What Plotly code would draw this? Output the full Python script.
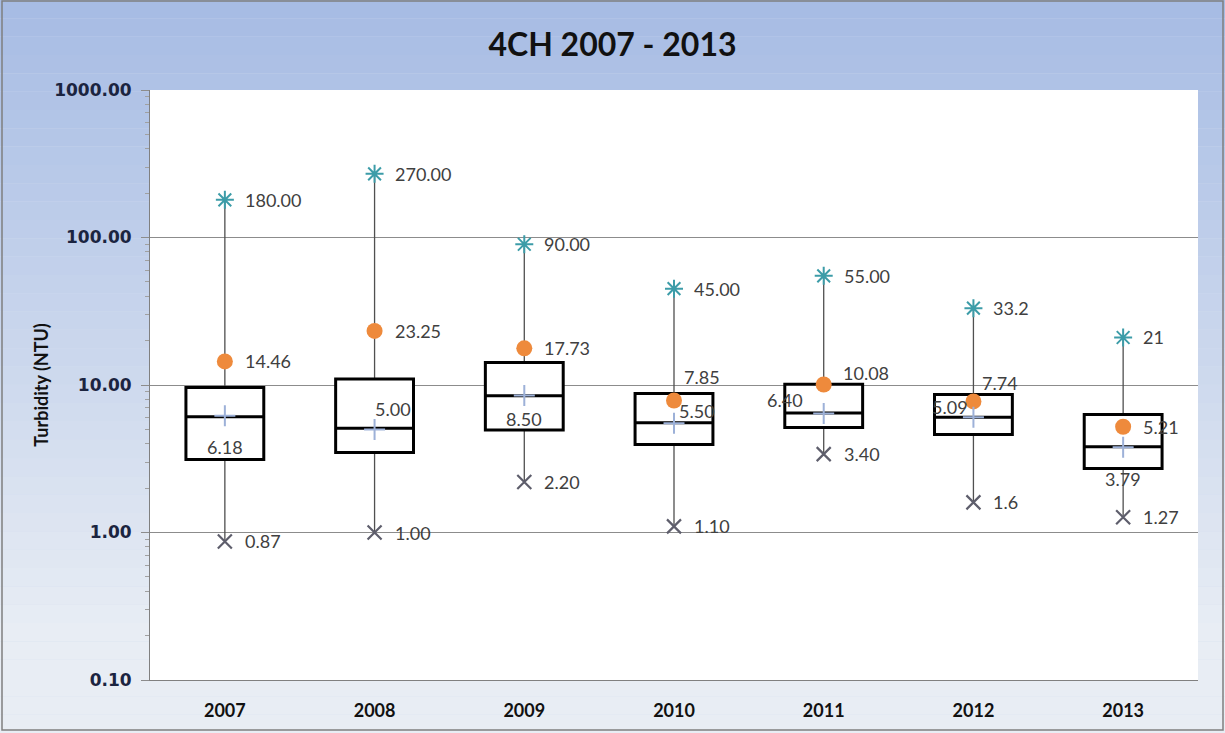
import math
import plotly.graph_objects as go

# ---- data ----
years = ["2007", "2008", "2009", "2010", "2011", "2012", "2013"]
q1 = [3.13, 3.49, 4.95, 3.95, 5.15, 4.62, 2.72]
median = [6.10, 5.10, 8.45, 5.55, 6.45, 6.05, 3.82]
q3 = [9.60, 11.0, 14.2, 8.75, 10.1, 8.62, 6.30]
max_vals = [180.0, 270.0, 90.0, 45.0, 55.0, 33.2, 21.0]
min_vals = [0.87, 1.00, 2.20, 1.10, 3.40, 1.6, 1.27]
p90_vals = [14.46, 23.25, 17.73, 7.85, 10.08, 7.74, 5.21]
mean_vals = [6.18, 5.00, 8.50, 5.50, 6.40, 6.05, 3.79]

max_labels = ["180.00", "270.00", "90.00", "45.00", "55.00", "33.2", "21"]
min_labels = ["0.87", "1.00", "2.20", "1.10", "3.40", "1.6", "1.27"]
p90_labels = ["14.46", "23.25", "17.73", "7.85", "10.08", "7.74", "5.21"]
mean_labels = ["6.18", "5.00", "8.50", "5.50", "6.40", "5.09", "3.79"]

y_tickvals = [0.1, 1, 10, 100, 1000]
y_ticktext = ["0.10", "1.00", "10.00", "100.00", "1000.00"]

# ---- label placement (style) ----
p90_pos = [("left", 18, 0), ("left", 18, 0), ("left", 18, 0), ("left", 8, 24),
           ("left", 17, 11), ("left", 7, 18), ("left", 18, 0)]
mean_pos = [("center", 0, -31), ("left", -2, 20), ("center", 0, -24), ("left", 3, 12),
            ("right", -19, 14), ("right", -3, 10), ("center", 0, -32)]

W, H = 1225, 733
ML, MR, MT, MB = 150, 27, 90, 53
PW, PH = W - ML - MR, H - MT - MB

LABEL_FONT = dict(family="Lato", size=18, color="#404040")

fig = go.Figure()

# whiskers (thin grey, full min->max range, hidden inside box by next trace)
fig.add_trace(go.Box(
    x=years, q1=q1, median=median, q3=q3,
    lowerfence=min_vals, upperfence=max_vals,
    line=dict(color="#505050", width=1.3), fillcolor="rgba(0,0,0,0)",
    width=0.0, whiskerwidth=0, showlegend=False, hoverinfo="skip",
))
# boxes
fig.add_trace(go.Box(
    x=years, q1=q1, median=median, q3=q3,
    lowerfence=q1, upperfence=q3,
    line=dict(color="#000000", width=3), fillcolor="#ffffff",
    width=0.52, whiskerwidth=0, showlegend=False, hoverinfo="skip",
))

fig.add_trace(go.Scatter(
    x=years, y=max_vals, mode="markers", showlegend=False,
    marker=dict(symbol="asterisk-open", size=15, color="#3C9CA8",
                line=dict(color="#3C9CA8", width=2)),
))
fig.add_trace(go.Scatter(
    x=years, y=min_vals, mode="markers", showlegend=False,
    marker=dict(symbol="x-thin-open", size=14, color="#5E5E6C",
                line=dict(color="#5E5E6C", width=2.2)),
))
fig.add_trace(go.Scatter(
    x=years, y=p90_vals, mode="markers", showlegend=False,
    marker=dict(symbol="circle", size=16, color="#EE8A3C"),
))
fig.add_trace(go.Scatter(
    x=years, y=mean_vals, mode="markers", showlegend=False,
    marker=dict(symbol="cross-thin-open", size=15, color="#9DB1D8",
                line=dict(color="#9DB1D8", width=2)),
))

ann = []
for i, yr in enumerate(years):
    ann.append(dict(x=i, y=math.log10(max_vals[i]), text=max_labels[i], showarrow=False,
                    xref="x", yref="y", xanchor="left", xshift=18, font=dict(LABEL_FONT)))
    ann.append(dict(x=i, y=math.log10(min_vals[i]), text=min_labels[i], showarrow=False,
                    xref="x", yref="y", xanchor="left", xshift=18, font=dict(LABEL_FONT)))
    a, xs, ys = p90_pos[i]
    ann.append(dict(x=i, y=math.log10(p90_vals[i]), text=p90_labels[i], showarrow=False,
                    xref="x", yref="y", xanchor=a, xshift=xs, yshift=ys, font=dict(LABEL_FONT)))
    a, xs, ys = mean_pos[i]
    ann.append(dict(x=i, y=math.log10(mean_vals[i]), text=mean_labels[i], showarrow=False,
                    xref="x", yref="y", xanchor=a, xshift=xs, yshift=ys, font=dict(LABEL_FONT)))

# background gradient bands (paper coords extended to full figure)
shapes = []
x0p, x1p = -ML / PW, 1 + MR / PW
top_c = (167, 188, 228)
bot_c = (232, 237, 244)
N = 40
for k in range(N):
    t = k / (N - 1)
    c = tuple(int(round(top_c[j] + (bot_c[j] - top_c[j]) * min(1.0, t * 1.15))) for j in range(3))
    ya = 1 + MT / PH - (k) * (H / N) / PH
    yb = 1 + MT / PH - (k + 1) * (H / N) / PH
    shapes.append(dict(type="rect", xref="paper", yref="paper", x0=x0p, x1=x1p, y0=yb, y1=ya,
                       fillcolor="rgb(%d,%d,%d)" % c, line=dict(width=0), layer="below"))
shapes.append(dict(type="rect", xref="paper", yref="paper", x0=0, x1=1, y0=0, y1=1,
                   fillcolor="#ffffff", line=dict(width=0), layer="below"))
# outer frame
shapes.append(dict(type="rect", xref="paper", yref="paper",
                   x0=x0p + 2 / PW, x1=x1p - 2 / PW, y0=-MB / PH + 3 / PH, y1=1 + MT / PH - 1 / PH,
                   line=dict(color="#7F7F7F", width=1.5), fillcolor="rgba(0,0,0,0)", layer="above"))

minor_vals = [m * 10 ** e for e in range(-1, 3) for m in range(2, 10)]

fig.update_layout(
    width=W, height=H,
    margin=dict(l=ML, r=MR, t=MT, b=MB, autoexpand=False),
    paper_bgcolor="#D3DDEE", plot_bgcolor="#ffffff",
    title=dict(text="<b>4CH 2007 - 2013</b>", x=0.5, xanchor="center", xref="container",
               y=1 - 45 / H, yanchor="middle",
               font=dict(family="Lato", size=32, color="#111111")),
    boxmode="overlay",
    shapes=shapes,
    xaxis=dict(type="category", range=[-0.5, 6.5], showgrid=False, showline=True,
               linecolor="#808080", linewidth=1, ticks="", ticklabelstandoff=14,
               tickfont=dict(family="Lato", size=18, color="#111111", weight="bold")),
    yaxis=dict(type="log", range=[-1, 3], tickvals=y_tickvals, ticktext=y_ticktext,
               showgrid=True, gridcolor="#8C8C8C", gridwidth=1,
               showline=True, linecolor="#808080", linewidth=1,
               ticks="outside", ticklen=8, tickcolor="#8C8C8C", ticklabelstandoff=6,
               tickfont=dict(family="DejaVu Sans", size=17, color="#1B2440", weight="bold"),
               minor=dict(tickvals=minor_vals, ticks="outside", ticklen=4, tickcolor="#A0A0A0",
                          showgrid=False),
               title=dict(text="Turbidity (NTU)", standoff=0,
                          font=dict(family="Lato", size=18, color="#111111", weight="bold")),
               zeroline=False),
)
fig.update_layout(annotations=ann)

fig.write_html("out.html", config={"displayModeBar": False},
               post_script="document.body.style.margin='0';document.body.style.padding='0';")
